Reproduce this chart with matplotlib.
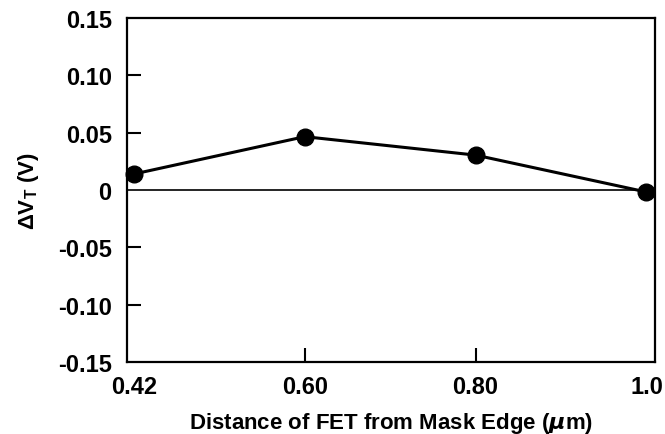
import matplotlib
matplotlib.use("Agg")
import matplotlib.pyplot as plt

# Delta VT vs distance of FET from mask edge
x_labels = ["0.42", "0.60", "0.80", "1.0"]
x_pos = [0, 1, 2, 3]
dvt = [0.014, 0.0466, 0.0305, -0.0017]
y_ticks = [-0.15, -0.10, -0.05, 0, 0.05, 0.10, 0.15]
y_labels = ["-0.15", "-0.10", "-0.05", "0", "0.05", "0.10", "0.15"]

plt.rcParams["font.family"] = "Liberation Sans"
plt.rcParams["font.weight"] = "bold"
plt.rcParams["mathtext.fontset"] = "custom"
plt.rcParams["mathtext.rm"] = "Liberation Sans"
plt.rcParams["mathtext.bf"] = "Liberation Sans:bold"

fig = plt.figure(figsize=(6.65, 4.35), dpi=100)
ax = fig.add_axes([0.191, 0.1655, 0.794, 0.7905])

ax.axhline(0, color="black", lw=1.2, zorder=1)
ax.plot(x_pos, dvt, color="black", lw=2.2, marker="o", markersize=12,
        clip_on=False, zorder=3)

ax.set_xlim(-0.04, 3.05)
ax.set_ylim(-0.15, 0.15)

ax.set_xticks(x_pos)
ax.set_xticklabels(x_labels)
ax.set_yticks(y_ticks)
ax.set_yticklabels(y_labels)
ax.tick_params(axis="both", direction="in", length=10, width=1.5,
               labelsize=17)
ax.tick_params(axis="x", pad=9)
ax.tick_params(axis="y", pad=11)

# no tick marks at the ends of the axes or at zero
for i in (0, 3):
    ax.xaxis.get_major_ticks()[i].tick1line.set_visible(False)
for i in (0, 3, 6):
    ax.yaxis.get_major_ticks()[i].tick1line.set_visible(False)

for s in ax.spines.values():
    s.set_linewidth(1.6)

ax.set_xlabel(r"Distance of FET from Mask Edge ($\mu$m)", fontsize=16,
              fontweight="bold", labelpad=9)
ax.set_ylabel(r"$\Delta\mathbf{V}_\mathbf{T}$ (V)", fontsize=16,
              fontweight="bold", labelpad=12)

fig.savefig("out.png", dpi=100)
